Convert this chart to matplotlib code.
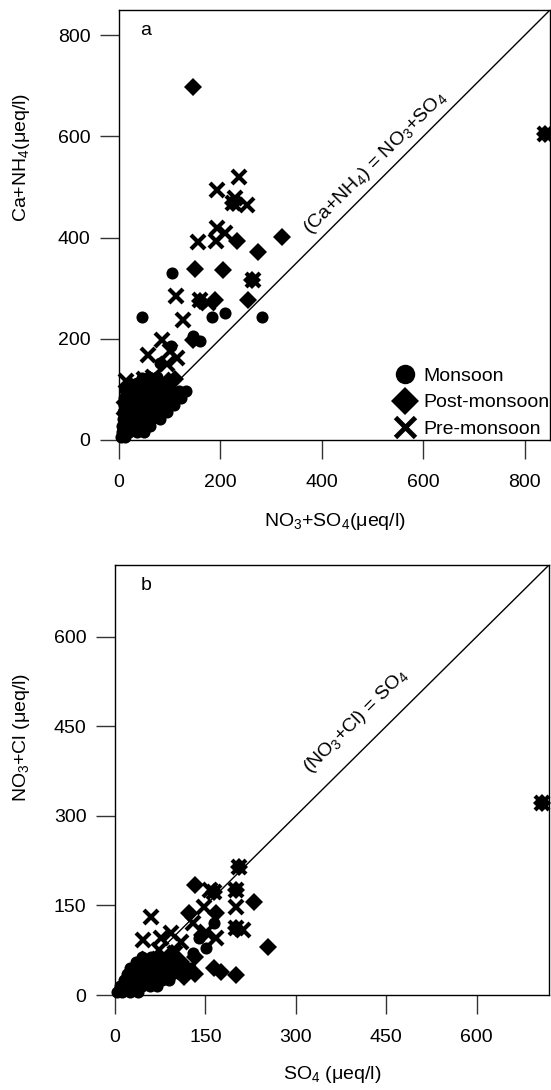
import matplotlib
matplotlib.use("Agg")
import matplotlib.pyplot as plt
from matplotlib.lines import Line2D

plt.rcParams['font.family'] = ['Liberation Sans', 'DejaVu Sans']
plt.rcParams['mathtext.fontset'] = 'custom'
plt.rcParams['mathtext.rm'] = 'Liberation Sans'
plt.rcParams['mathtext.it'] = 'Liberation Sans'

# ---------------- Panel a: NO3+SO4 vs Ca+NH4 (ueq/l) ----------------
a_mon_x = [3, 12,
           5, 20, 35, 50,
           6, 20, 35, 50, 62,
           7, 20, 35, 50, 65, 80,
           8, 22, 36, 50, 65, 80, 95,
           9, 22, 36, 50, 65, 80, 95, 108,
           10, 24, 38, 52, 66, 80, 95, 110, 122,
           12, 26, 40, 55, 70, 85, 100, 118, 132,
           20, 35, 50, 65, 80, 95,
           45, 60, 75,
           81, 102, 104, 45, 282, 183, 209, 160, 146, 840]
a_mon_y = [5, 5,
           15, 15, 15, 15,
           28, 28, 28, 28, 28,
           42, 42, 42, 42, 42, 42,
           56, 56, 56, 56, 56, 56, 56,
           70, 70, 70, 70, 70, 70, 70, 70,
           84, 84, 84, 84, 84, 84, 84, 84, 84,
           98, 98, 98, 98, 98, 98, 98, 96, 96,
           112, 112, 112, 112, 112, 112,
           122, 124, 124,
           152, 185, 330, 243, 243, 244, 251, 195, 205, 604]

a_post_x = [146, 232, 322, 274, 149, 206, 255, 189, 160, 146, 225, 262, 840, 60, 85, 110, 40, 70]
a_post_y = [698, 394, 402, 371, 338, 336, 277, 277, 274, 198, 468, 316, 604, 85, 105, 120, 55, 75]

a_pre_x = [237, 194, 228, 252, 225, 194, 209, 192, 156, 264, 112, 160, 127, 84, 58, 114,
           14, 10, 68, 87, 100, 840, 175, 30, 50, 95]
a_pre_y = [519, 494, 478, 465, 468, 419, 409, 393, 391, 316, 284, 277, 238, 198, 168, 162,
           117, 63, 125, 119, 175, 604, 270, 85, 120, 150]

# ---------------- Panel b: SO4 vs NO3+Cl (ueq/l) ----------------
b_mon_x = [3, 12, 25, 38,
           8, 20, 32, 45, 58, 70,
           15, 28, 40, 52, 65, 78, 90,
           20, 32, 45, 58, 70, 82, 95, 108, 118,
           25, 38, 50, 62, 75, 88, 100, 112, 125,
           35, 48, 60, 72, 85, 98, 110,
           45, 60, 75, 90, 101,
           123, 151, 206, 708, 130, 165, 201, 140]
b_mon_y = [5, 5, 5, 5,
           15, 15, 15, 15, 15, 15,
           25, 25, 25, 25, 25, 25, 25,
           35, 35, 35, 35, 35, 35, 35, 35, 35,
           45, 45, 45, 45, 45, 45, 45, 45, 45,
           55, 55, 55, 55, 55, 55, 55,
           64, 64, 64, 64, 64,
           137, 78, 215, 321, 70, 120, 110, 95]

b_post_x = [133, 165, 201, 230, 167, 123, 201, 254, 132, 133, 165, 176, 201, 206, 708,
            60, 95, 115, 145, 110]
b_post_y = [184, 173, 176, 155, 138, 137, 112, 80, 64, 36, 46, 39, 34, 215, 321,
            40, 70, 30, 100, 55]

b_pre_x = [157, 165, 201, 201, 148, 201, 212, 60, 46, 93, 76, 73, 168, 151, 206, 708, 40, 55,
           110, 130, 100]
b_pre_y = [176, 173, 176, 148, 148, 112, 109, 130, 92, 103, 95, 75, 95, 106, 215, 321, 30, 60,
           88, 120, 70]

fig = plt.figure(figsize=(5.51, 10.90), dpi=100)
W, H = 551, 1090
ax1 = fig.add_axes([119 / W, 1 - 440 / H, (550 - 119) / W, 430 / H])
ax2 = fig.add_axes([115 / W, 1 - 995 / H, (549 - 115) / W, 430 / H])

FS = 14


def draw(ax, mx, my, px, py, rx, ry, lim):
    ax.plot([0, lim], [0, lim], color='black', lw=1.0, zorder=1)
    ax.plot(mx, my, 'o', color='black', ms=8.7, mew=0, zorder=2, clip_on=False)
    ax.plot(px, py, 'D', color='black', ms=9.5, mew=0, zorder=3, clip_on=False)
    ax.plot(rx, ry, 'x', color='black', ms=10.5, mew=3.0, zorder=4, clip_on=False)
    ax.set_xlim(0, lim)
    ax.set_ylim(0, lim)
    for s in ax.spines.values():
        s.set_linewidth(1.0)
    ax.tick_params(direction='out', length=13.5, width=1.0, labelsize=FS,
                   top=False, right=False, color='#333333')
    ax.tick_params(axis='x', pad=11)
    ax.tick_params(axis='y', pad=7)


draw(ax1, a_mon_x, a_mon_y, a_post_x, a_post_y, a_pre_x, a_pre_y, 850)
ax1.set_xticks([0, 200, 400, 600, 800])
ax1.set_yticks([0, 200, 400, 600, 800])
ax1.set_xlabel('NO$_3$+SO$_4$(\u03bceq/l)', fontsize=FS)
ax1.set_ylabel('Ca+NH$_4$(\u03bceq/l)', fontsize=FS)
ax1.xaxis.set_label_coords(0.5, -0.165)
ax1.yaxis.set_label_coords(-0.201, 0.658)
ax1.text(0.05, 0.953, 'a', transform=ax1.transAxes, fontsize=FS, va='center')
ax1.text(505, 548, '(Ca+NH$_4$) = NO$_3$+SO$_4$', rotation=45, rotation_mode='anchor',
         ha='center', va='center', fontsize=FS)

handles = [Line2D([], [], marker='o', color='black', ls='none', ms=14, mew=0),
           Line2D([], [], marker='D', color='black', ls='none', ms=14, mew=0),
           Line2D([], [], marker='x', color='black', ls='none', ms=14, mew=3.5)]
ax1.legend(handles, ['Monsoon', 'Post-monsoon', 'Pre-monsoon'], loc='lower right',
           bbox_to_anchor=(1.025, -0.022), frameon=False, fontsize=FS, handletextpad=0.45,
           labelspacing=0.45, handlelength=1.0, borderaxespad=0.2)

draw(ax2, b_mon_x, b_mon_y, b_post_x, b_post_y, b_pre_x, b_pre_y, 720)
ax2.set_xticks([0, 150, 300, 450, 600])
ax2.set_yticks([0, 150, 300, 450, 600])
ax2.set_xlabel('SO$_4$ (\u03bceq/l)', fontsize=FS)
ax2.set_ylabel('NO$_3$+Cl (\u03bceq/l)', fontsize=FS)
ax2.xaxis.set_label_coords(0.5, -0.160)
ax2.yaxis.set_label_coords(-0.191, 0.598)
ax2.text(0.06, 0.953, 'b', transform=ax2.transAxes, fontsize=FS, va='center')
ax2.text(400, 458, '(NO$_3$+Cl) = SO$_4$', rotation=45, rotation_mode='anchor',
         ha='center', va='center', fontsize=FS)

fig.savefig('out.png', dpi=100)
